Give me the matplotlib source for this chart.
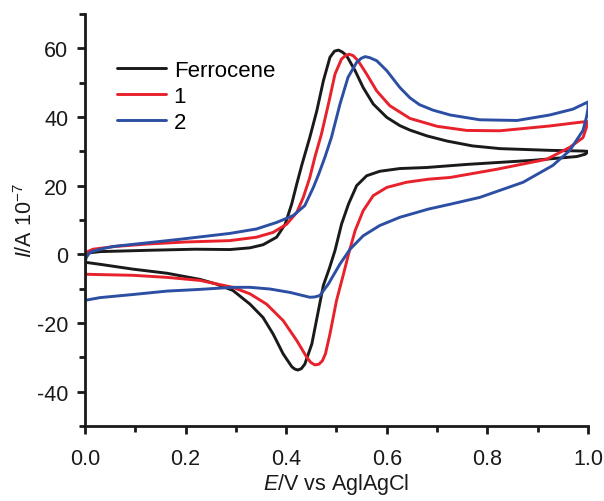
import matplotlib
matplotlib.use("Agg")
import matplotlib.pyplot as plt
from matplotlib.ticker import MultipleLocator

# digitised cyclic voltammograms: forward scan 0 -> 1.0 V, then reverse 1.0 -> 0 V
fc_E = [0.0, 0.0, 0.03, 0.13, 0.22, 0.288, 0.328, 0.354, 0.381, 0.398, 0.411, 0.421,
        0.431, 0.447, 0.461, 0.474, 0.487, 0.496, 0.504, 0.512, 0.520, 0.537,
        0.553, 0.573, 0.600, 0.626, 0.646, 0.68, 0.72, 0.77, 0.825, 0.924, 0.99, 1.0,
        0.995, 0.978, 0.891, 0.759, 0.679, 0.626, 0.586, 0.560, 0.540, 0.524,
        0.510, 0.497, 0.486, 0.474, 0.464, 0.451, 0.437, 0.430, 0.423, 0.417,
        0.411, 0.394, 0.374, 0.354, 0.328, 0.294, 0.26, 0.229, 0.163, 0.095,
        0.03, 0.0, 0.0]
fc_I = [-2.3, 0.3, 0.8, 1.2, 1.5, 1.4, 1.9, 2.8, 5.0, 8.8, 14.7, 20.5,
        26.0, 34.1, 41.9, 50.6, 57.4, 59.2, 59.5, 58.9, 57.9, 53.5,
        48.6, 43.8, 39.9, 37.5, 36.2, 34.5, 33.0, 31.6, 30.8, 30.3, 30.1, 30.0,
        29.2, 28.5, 27.4, 26.2, 25.3, 25.0, 24.2, 22.9, 20.0, 14.7,
        8.8, 1.1, -4.0, -9.0, -16.4, -26.1, -32.0, -33.3, -33.7, -33.4,
        -32.7, -29.0, -23.2, -18.4, -14.5, -10.5, -8.6, -7.3, -5.5, -4.3,
        -2.9, -2.3, 0.3]

c1_E = [0.0, 0.0, 0.005, 0.016, 0.06, 0.123, 0.2, 0.288, 0.341, 0.374, 0.401, 0.421,
        0.434, 0.447, 0.457, 0.470, 0.484, 0.497, 0.510, 0.518, 0.525, 0.533,
        0.543, 0.560, 0.580, 0.606, 0.646, 0.7, 0.759, 0.825, 0.924, 0.985, 0.998,
        0.997, 0.99, 0.964, 0.918, 0.819, 0.726, 0.683, 0.639, 0.600, 0.573,
        0.553, 0.537, 0.524, 0.514, 0.500, 0.487, 0.478, 0.472, 0.465, 0.457,
        0.449, 0.441, 0.421, 0.394, 0.361, 0.328, 0.294, 0.229, 0.163, 0.095,
        0.0, 0.0]
c1_I = [-5.8, 0.0, 0.8, 1.5, 2.3, 3.0, 3.6, 4.0, 5.0, 6.4, 8.8, 12.2,
        16.6, 22.4, 28.3, 35.0, 43.8, 52.5, 56.9, 57.9, 58.3, 57.9,
        56.4, 52.5, 47.6, 43.3, 39.6, 37.3, 36.1, 36.0, 37.4, 38.5, 38.7,
        37.0, 34.0, 31.2, 27.7, 24.8, 22.4, 21.9, 21.0, 19.5, 17.1,
        12.7, 6.9, 0.1, -5.7, -13.5, -23.2, -29.0, -31.0, -32.0, -32.2,
        -31.5, -30.0, -25.1, -19.3, -14.5, -11.5, -9.6, -7.6, -6.7, -6.1,
        -5.8, 0.0]

c2_E = [0.0, 0.0, 0.003, 0.01, 0.03, 0.056, 0.12, 0.189, 0.288, 0.341, 0.381, 0.414,
        0.437, 0.454, 0.465, 0.477, 0.490, 0.507, 0.523, 0.540, 0.549, 0.557,
        0.566, 0.580, 0.600, 0.626, 0.646, 0.665, 0.692, 0.726, 0.785, 0.859, 0.924,
        0.97, 1.0, 1.0, 0.997, 0.99, 0.964, 0.93, 0.871, 0.785, 0.726, 0.683,
        0.626, 0.586, 0.553, 0.527, 0.507, 0.484, 0.467, 0.457, 0.447, 0.408,
        0.368, 0.328, 0.294, 0.229, 0.163, 0.095, 0.03, 0.0]
c2_I = [-13.4, -2.3, -0.8, 0.6, 1.5, 2.3, 3.3, 4.4, 6.1, 7.4, 9.3, 11.3,
        14.2, 19.5, 23.5, 28.3, 34.1, 43.8, 51.6, 55.9, 57.1, 57.6,
        57.3, 56.4, 53.5, 48.6, 45.6, 43.6, 42.0, 40.6, 39.2, 39.0, 40.6,
        42.3, 44.4, 42.5, 40.0, 36.1, 30.3, 25.9, 21.0, 16.6, 14.6, 13.2,
        10.8, 8.4, 5.4, 1.5, -2.8, -8.6, -12.0, -12.4, -12.5, -11.1,
        -10.1, -9.6, -9.6, -10.2, -10.7, -11.7, -12.6, -13.4]

labels = ["Ferrocene", "1", "2"]
colors = ["#1a1a1a", "#e8212b", "#2d4fa3"]

plt.rcParams["font.family"] = ["Liberation Sans", "DejaVu Sans"]
plt.rcParams["mathtext.fontset"] = "custom"
plt.rcParams["mathtext.rm"] = "Liberation Sans"
plt.rcParams["mathtext.it"] = "Liberation Sans:italic"
plt.rcParams["axes.unicode_minus"] = False

fig = plt.figure(figsize=(6.04, 5.02), dpi=100)
ax = fig.add_axes([0.1407, 0.1494, 0.8328, 0.8206])

for E, I, lab, c in zip([fc_E, c1_E, c2_E], [fc_I, c1_I, c2_I], labels, colors):
    ax.plot(E, I, color=c, lw=2.1, label=lab, solid_joinstyle="round",
            solid_capstyle="round")

ax.set_xlim(0, 1.0)
ax.set_ylim(-50, 70)
ax.set_xticks([0.0, 0.2, 0.4, 0.6, 0.8, 1.0])
ax.set_xticklabels(["0.0", "0.2", "0.4", "0.6", "0.8", "1.0"])
ax.xaxis.set_minor_locator(MultipleLocator(0.1))
ax.set_yticks([-40, -20, 0, 20, 40, 60])
ax.yaxis.set_minor_locator(MultipleLocator(10))

for side in ["top", "right"]:
    ax.spines[side].set_visible(False)
for side in ["left", "bottom"]:
    ax.spines[side].set_linewidth(2.0)
    ax.spines[side].set_color("#1a1a1a")

ax.tick_params(which="major", direction="out", length=6, width=2.0,
               labelsize=15.5, colors="#1a1a1a")
ax.tick_params(axis="x", which="major", pad=10)
ax.tick_params(axis="y", which="major", pad=6)
ax.tick_params(which="minor", direction="out", length=4, width=2.0, colors="#1a1a1a")

ax.set_xlabel(r"$\it{E}$/V vs AglAgCl", fontsize=15.5, labelpad=1, color="#1a1a1a")
ax.set_ylabel(r"$\it{I}$/A 10$^{\mathrm{-7}}$", fontsize=15.5, labelpad=0, color="#1a1a1a")

ax.legend(loc="upper left", bbox_to_anchor=(0.046, 0.91), borderaxespad=0,
          frameon=False, fontsize=16, handlelength=2.2, handletextpad=0.35,
          labelspacing=0.22)

fig.savefig("out.png", dpi=100)
